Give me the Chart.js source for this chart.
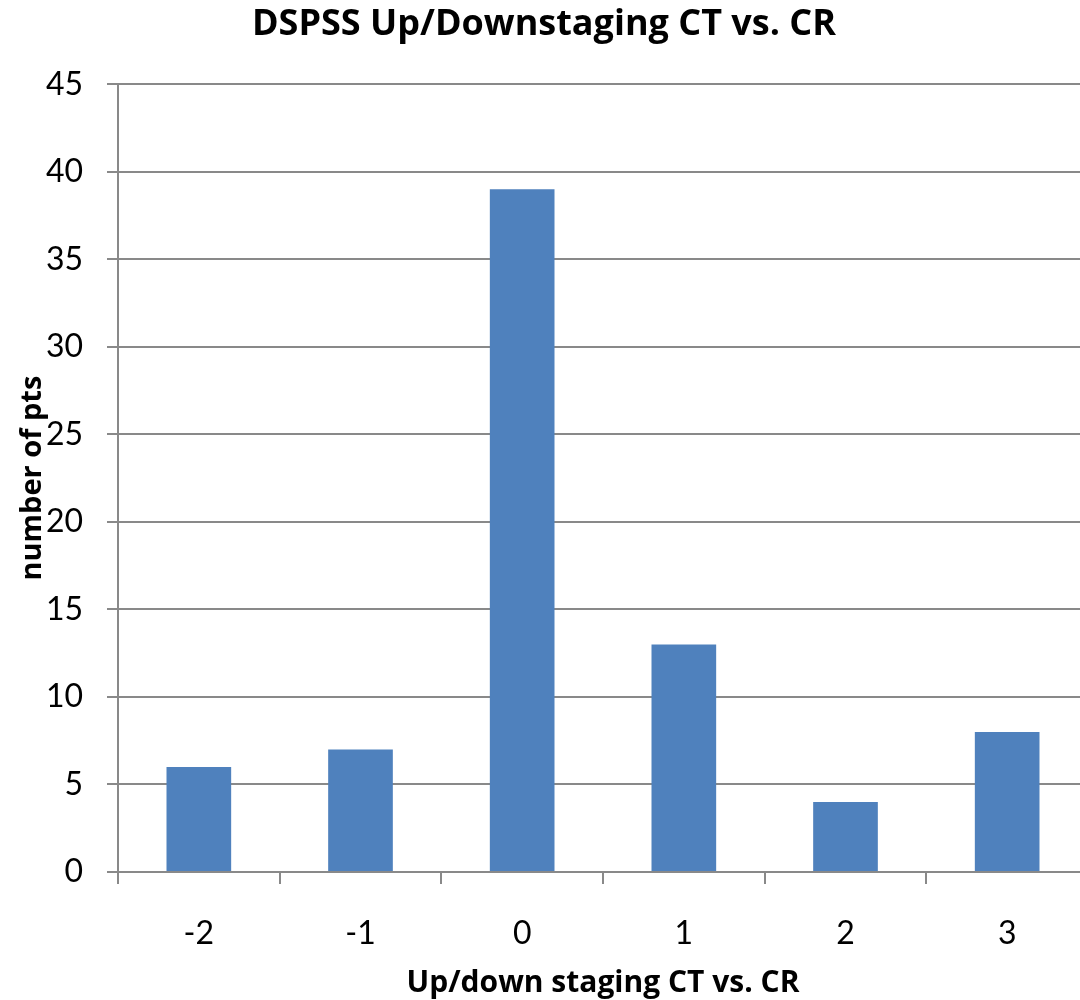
<!DOCTYPE html>
<html>
<head>
  <title>DSPSS Up/Downstaging CT vs. CR</title>
  <script src="https://cdn.jsdelivr.net/npm/chart.js"></script>
  <style>
    html, body { margin: 0; padding: 0; overflow: hidden; background: #fff; }
    #wrap { width: 1088px; height: 1000px; position: relative; }
  </style>
</head>
<body>
  <div id="wrap"><canvas id="stagingChart"></canvas></div>

  <script>
    // values
    const stages = ['-2', '-1', '0', '1', '2', '3'];
    const patients = [6, 7, 39, 13, 4, 8];
    const yMin = 0;
    const yMax = 45;
    const yStep = 5;

    const axisGray = '#898989';
    const fontFace = 'Lato, "Open Sans", sans-serif';
    const boldFace = '"Open Sans", Lato, sans-serif';

    new Chart(document.getElementById('stagingChart'), {
      type: 'bar',
      data: {
        labels: stages,
        datasets: [{
          label: 'number of pts',
          data: patients,
          backgroundColor: '#4F81BD',
          borderWidth: 0,
          barPercentage: 0.4,
          categoryPercentage: 1.0
        }]
      },
      options: {
        responsive: true,
        maintainAspectRatio: false,
        animation: false,
        layout: { padding: 0 },
        plugins: {
          legend: { display: false },
          tooltip: { enabled: false },
          title: {
            display: true,
            text: 'DSPSS Up/Downstaging CT vs. CR',
            color: '#000',
            font: { family: boldFace, size: 36, weight: 'bold' },
            padding: { top: 3, bottom: 38 }
          }
        },
        scales: {
          x: {
            grid: {
              display: true,
              offset: true,
              drawOnChartArea: false,
              drawTicks: true,
              tickLength: 12,
              color: axisGray,
              lineWidth: 2
            },
            border: { display: true, color: axisGray, width: 2 },
            ticks: {
              color: '#000',
              font: { family: fontFace, size: 32 },
              padding: 30
            },
            title: {
              display: true,
              text: 'Up/down staging CT vs. CR',
              color: '#000',
              font: { family: boldFace, size: 30, weight: 'bold' },
              padding: { top: 10, bottom: -1 }
            },
            afterFit: s => { s.height = 128; }
          },
          y: {
            min: yMin,
            max: yMax,
            grid: {
              color: axisGray,
              lineWidth: 2,
              drawTicks: true,
              tickLength: 11
            },
            border: { display: true, color: axisGray, width: 2 },
            ticks: {
              stepSize: yStep,
              color: '#000',
              font: { family: fontFace, size: 32 },
              padding: 24
            },
            title: {
              display: true,
              text: 'number of pts',
              color: '#000',
              font: { family: boldFace, size: 29, weight: 'bold' },
              padding: { top: 15, bottom: 0 }
            },
            afterFit: s => { s.width = 118; }
          }
        }
      }
    });
  </script>
</body>
</html>
